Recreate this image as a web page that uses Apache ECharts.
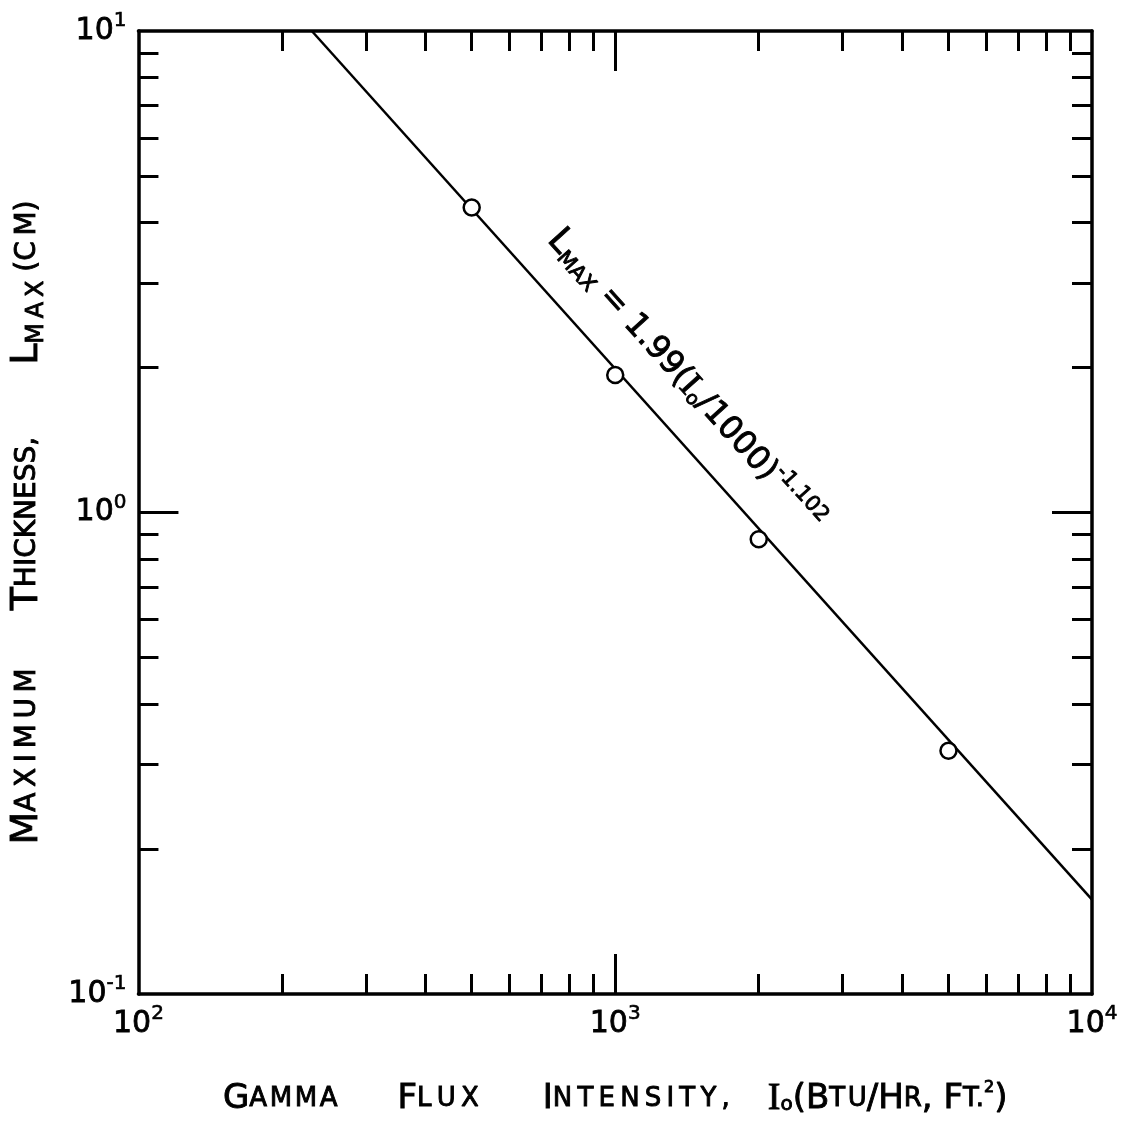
<!DOCTYPE html>
<html>
<head>
<meta charset="utf-8">
<script src="https://cdn.jsdelivr.net/npm/echarts@6/dist/echarts.min.js"></script>
<style>
  html, body { margin: 0; padding: 0; background: #fff; }
  #chart { width: 1139px; height: 1129px; }
</style>
</head>
<body>
<div id="chart"></div>
<script>
// Measured gamma flux (Btu/hr ft^2) and maximum thickness (cm)
const fluxPoints = [500, 1000, 2000, 5000];
const thicknessPoints = [4.3, 1.93, 0.88, 0.32];

// Fitted power law L = 1.99 (I/1000)^-1.102, end points across the frame
const fitFlux = [231, 10000];
const fitThickness = [10, 0.157];

// Tick values
const xMajorTicks = [100, 1000, 10000];
const xMinorTicks = [200, 300, 400, 500, 600, 700, 800, 900, 2000, 3000, 4000, 5000, 6000, 7000, 8000, 9000];
const yMajorTicks = [0.1, 1, 10];
const yMinorTicks = [0.2, 0.3, 0.4, 0.5, 0.6, 0.7, 0.8, 0.9, 2, 3, 4, 5, 6, 7, 8, 9];

const FONT = 'DejaVu Sans';
const INK = '#000';

// open up lettering by putting thin (or hair) spaces between letters
function thin(s) { return s.split('').join('\u2009'); }
function hair(s) { return s.split('').join('\u200A'); }

// slightly heavier strokes, like hand lettering
function ink(size, extra) {
  return Object.assign({ fontFamily: FONT, fontSize: size, color: INK,
                         textBorderColor: INK, textBorderWidth: 0.9 }, extra || {});
}

function powerLabel(v) {
  const e = Math.round(Math.log10(v));
  return '{b|10}{s|' + (e < 0 ? '-' + (-e) : e) + '}';
}
const powerRich = {
  b: ink(30, { textBorderWidth: 0.8 }),
  s: ink(20, { textBorderWidth: 0.6, padding: [0, 0, 20, 0] })
};

const lineAxis = { show: true, lineStyle: { color: INK, width: 3.5 } };
function tickStyle(len, values) {
  return { show: true, inside: true, length: len, customValues: values,
           lineStyle: { color: INK, width: 3 } };
}

function logX(position, ticks, len, extra) {
  return Object.assign({
    type: 'log', logBase: 10, min: 100, max: 10000, position: position,
    axisLine: lineAxis, axisTick: tickStyle(len, ticks),
    axisLabel: { show: false }, splitLine: { show: false }
  }, extra || {});
}
function logY(position, ticks, len, extra) {
  return Object.assign({
    type: 'log', logBase: 10, min: 0.1, max: 10, position: position,
    axisLine: lineAxis, axisTick: tickStyle(len, ticks),
    axisLabel: { show: false }, splitLine: { show: false }
  }, extra || {});
}

const xName = '{B|G}{S|' + hair('AMMA') + '}{g1| }{B|F}{S|' + thin('LUX') + '}{g2| }' +
              '{B|I}{S|' + thin('NTENSITY,') + '}{g3| }' +
              '{R|I}{o|o}{B|(B}{S|' + hair('TU') + '}{B|/H}{S|R}{B|, F}{S|T.}{p|2}{B|)}';
const xNameRich = {
  B: ink(34), S: ink(26),
  g1: { width: 60 }, g2: { width: 64 }, g3: { width: 38 },
  R: ink(38, { fontFamily: 'Liberation Serif' }),
  o: ink(20, { padding: [12, 0, 0, 0] }),
  p: ink(16, { padding: [0, 0, 22, 0] })
};

const yName = '{B|M}{S|' + thin('AXIMUM') + '}{g1| }{B|T}{S|HICKNESS,}{g2| }' +
              '{B|L}{m|' + thin('MAX') + '}{S| (' + thin('CM') + ')}{g3| }';
const yNameRich = {
  B: ink(38), S: ink(28),
  g1: { width: 58 }, g2: { width: 72 }, g3: { width: 20 },
  m: ink(24, { padding: [18, 0, 0, 0] })
};

const fitText = '{L|L}{m|MAX}{t| = 1.99(}{R|I}{o|o}{t|/1000)}{e|-1.102}';
const fitRich = {
  L: ink(35),
  m: ink(21, { padding: [17, 0, 0, 0] }),
  t: ink(32),
  R: ink(36, { fontFamily: 'Liberation Serif' }),
  o: ink(19, { padding: [15, 0, 0, 0] }),
  e: ink(21, { padding: [0, 0, 22, 0] })
};

const chart = echarts.init(document.getElementById('chart'), null, { renderer: 'canvas' });
chart.setOption({
  animation: false,
  backgroundColor: '#fff',
  grid: { left: 137, right: 47, top: 31, bottom: 135 },
  xAxis: [
    logX('bottom', xMinorTicks, 20, {
      axisLabel: { show: true, customValues: xMajorTicks, margin: 10,
                   formatter: powerLabel, rich: powerRich },
      name: xName, nameLocation: 'middle', nameGap: 86,
      nameTextStyle: { rich: xNameRich }
    }),
    logX('top', xMinorTicks, 20),
    logX('bottom', [1000], 40, { axisLine: { show: false } }),
    logX('top', [1000], 40, { axisLine: { show: false } })
  ],
  yAxis: [
    logY('left', yMinorTicks, 20, {
      axisLabel: { show: true, customValues: yMajorTicks, margin: 12,
                   formatter: powerLabel, rich: powerRich },
      name: yName, nameLocation: 'middle', nameGap: 90, nameRotate: 90,
      nameTextStyle: { rich: yNameRich }
    }),
    logY('right', yMinorTicks, 20),
    logY('left', [1], 40, { axisLine: { show: false } }),
    logY('right', [1], 40, { axisLine: { show: false } })
  ],
  series: [
    {
      name: 'fit', type: 'line', xAxisIndex: 0, yAxisIndex: 0,
      data: fitFlux.map((x, i) => [x, fitThickness[i]]),
      showSymbol: false, silent: true,
      lineStyle: { color: INK, width: 2.5 }, z: 2
    },
    {
      name: 'measured', type: 'scatter', xAxisIndex: 0, yAxisIndex: 0,
      data: fluxPoints.map((x, i) => [x, thicknessPoints[i]]),
      symbol: 'circle', symbolSize: 16,
      itemStyle: { color: '#fff', borderColor: INK, borderWidth: 2.5, opacity: 1 },
      z: 3
    },
    {
      name: 'equation', type: 'scatter', xAxisIndex: 0, yAxisIndex: 0,
      data: [[1400, 1.88]], symbolSize: 0, silent: true,
      itemStyle: { color: INK, opacity: 1 },
      label: { show: true, position: 'inside', rotate: -48, color: INK, opacity: 1,
               formatter: fitText, rich: fitRich },
      z: 4
    }
  ]
});
</script>
</body>
</html>
